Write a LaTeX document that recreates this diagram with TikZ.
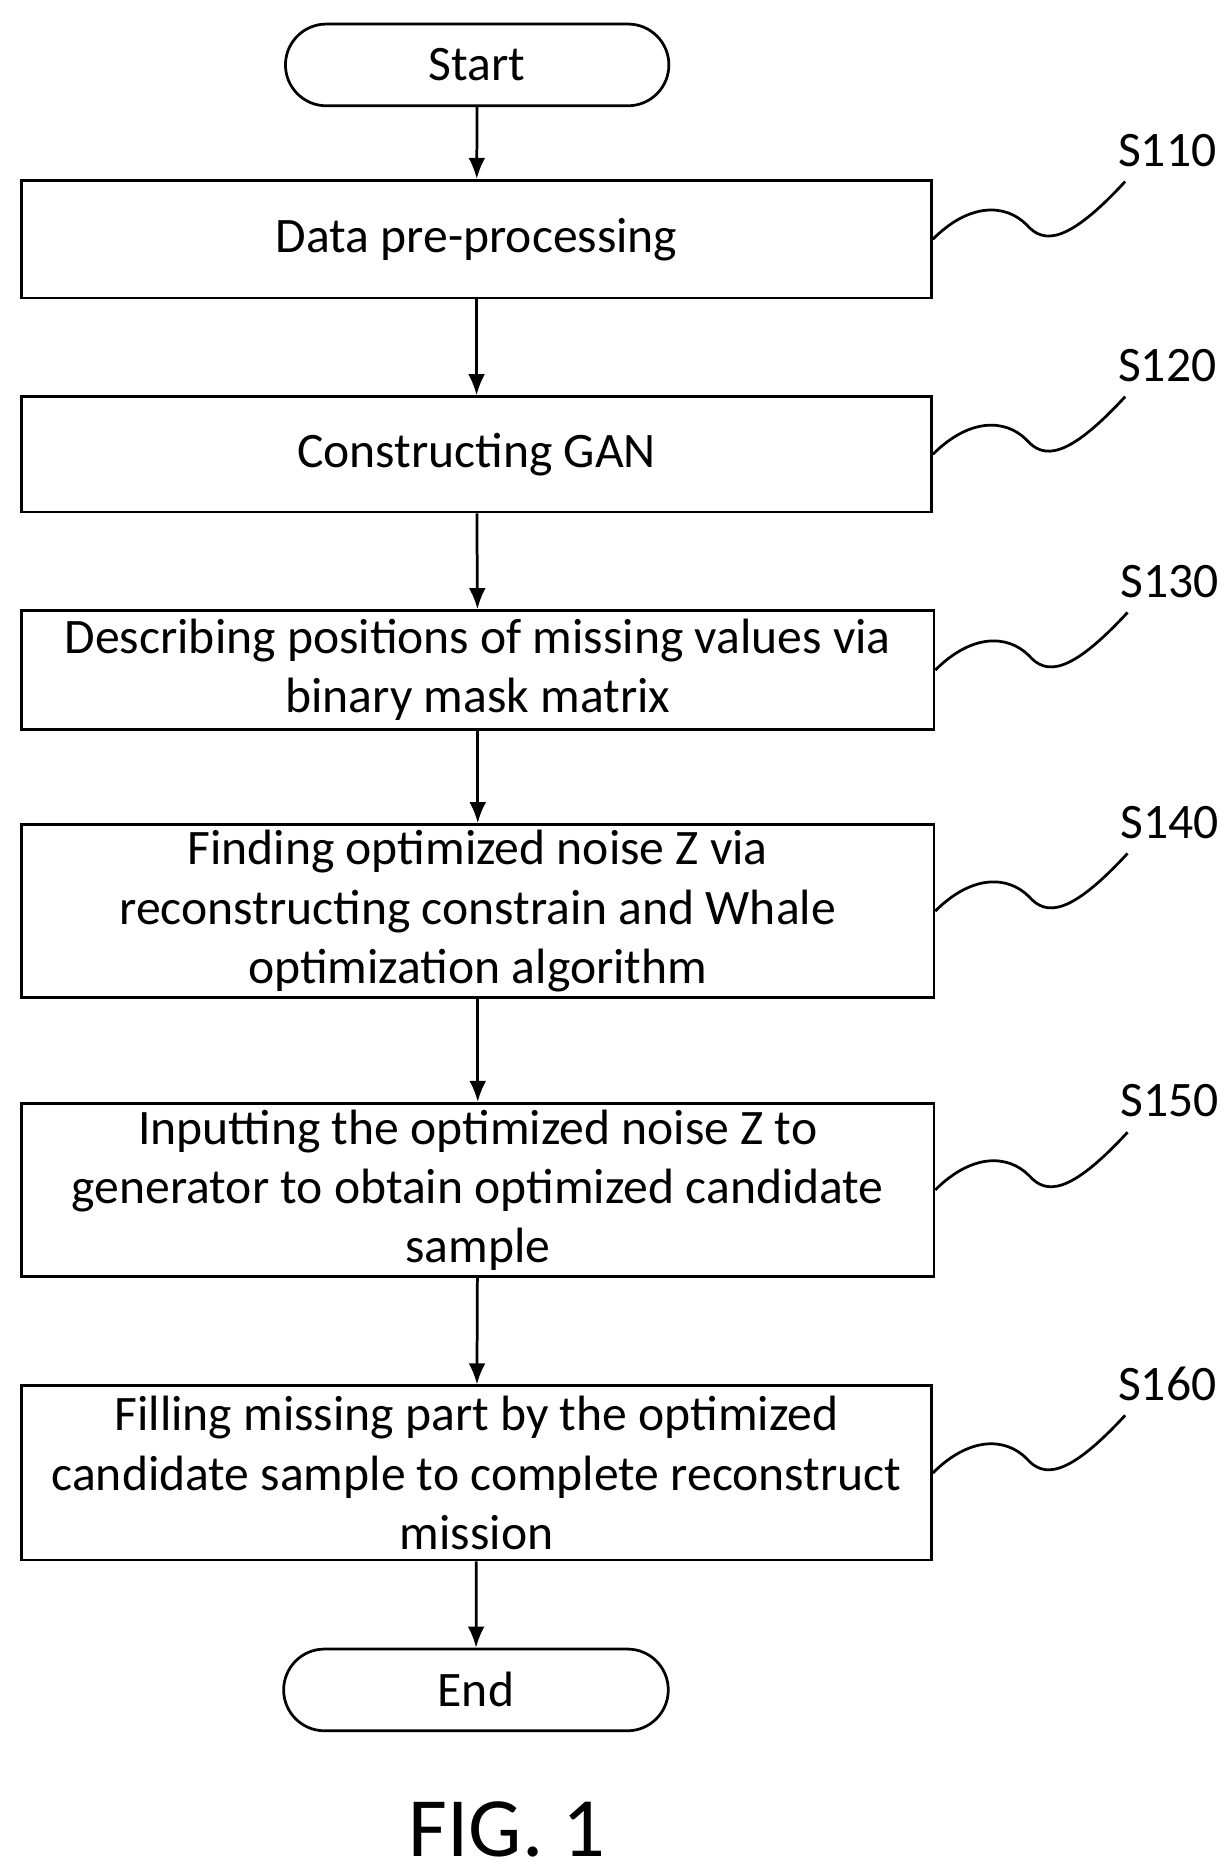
\documentclass[tikz,border=0pt]{standalone}
\usepackage{fontspec}
\setmainfont{Carlito}
\usetikzlibrary{arrows.meta,calc}
\begin{document}
\begin{tikzpicture}[x=0.02cm,y=-0.02cm,
 box/.style={draw,line width=1.3pt,inner sep=0pt,align=center,font=\fontsize{23.5}{28}\selectfont},
 term/.style={draw,line width=1.3pt,rounded corners=0.68cm,inner sep=0pt,font=\fontsize{23.5}{28}\selectfont},
 arr/.style={-{Latex[length=10pt,width=8pt]},line width=1.3pt},
 sq/.style={line width=1.3pt},
 lab/.style={font=\fontsize{23.5}{28}\selectfont}]
\useasboundingbox (0,0) rectangle (1024,1560);
\node[term,minimum width=319*0.02cm,minimum height=68*0.02cm] (st) at (397,54) {Start};
\node[box,minimum width=757*0.02cm,minimum height=98*0.02cm] (b1) at (396.5,199) {Data pre-processing};
\node[box,minimum width=757*0.02cm,minimum height=96*0.02cm] (b2) at (396.5,378) {Constructing GAN};
\node[box,minimum width=759*0.02cm,minimum height=99*0.02cm] (b3) at (397.5,557.5) {Describing positions of missing values via\\binary mask matrix};
\node[box,minimum width=759*0.02cm,minimum height=144*0.02cm] (b4) at (397.5,758) {Finding optimized noise Z via\\reconstructing constrain and Whale\\optimization algorithm};
\node[box,minimum width=759*0.02cm,minimum height=144*0.02cm] (b5) at (397.5,990) {Inputting the optimized noise Z to\\generator to obtain optimized candidate\\sample};
\node[box,minimum width=757*0.02cm,minimum height=145*0.02cm] (b6) at (396.5,1225.5) {Filling missing part by the optimized\\candidate sample to complete reconstruct\\mission};
\node[term,minimum width=320*0.02cm,minimum height=68*0.02cm] (en) at (396,1406) {End};
\draw[arr] (st) -- (b1);
\draw[arr] (b1) -- (b2);
\draw[arr] (b2) -- (b3);
\draw[arr] (b3) -- (b4);
\draw[arr] (b4) -- (b5);
\draw[arr] (b5) -- (b6);
\draw[arr] (b6) -- (en);
\foreach \b/\t in {b1/S110,b2/S120,b3/S130,b4/S140,b5/S150,b6/S160}{
 \coordinate (p) at (\b.east);
 \node[lab] (l\t) at ($(p)+(195,-74)$) {\t};
 \draw[sq] (p) .. controls ($(p)+(30,-30)$) and ($(p)+(60,-30)$) .. ($(p)+(78,-12)$)
   .. controls ($(p)+(92,4)$) and ($(p)+(112,4)$) .. ($(p)+(160,-48)$);
}
\node[font=\fontsize{40}{48}\selectfont] (fig) at (422,1522) {FIG. 1};
\end{tikzpicture}
\end{document}
